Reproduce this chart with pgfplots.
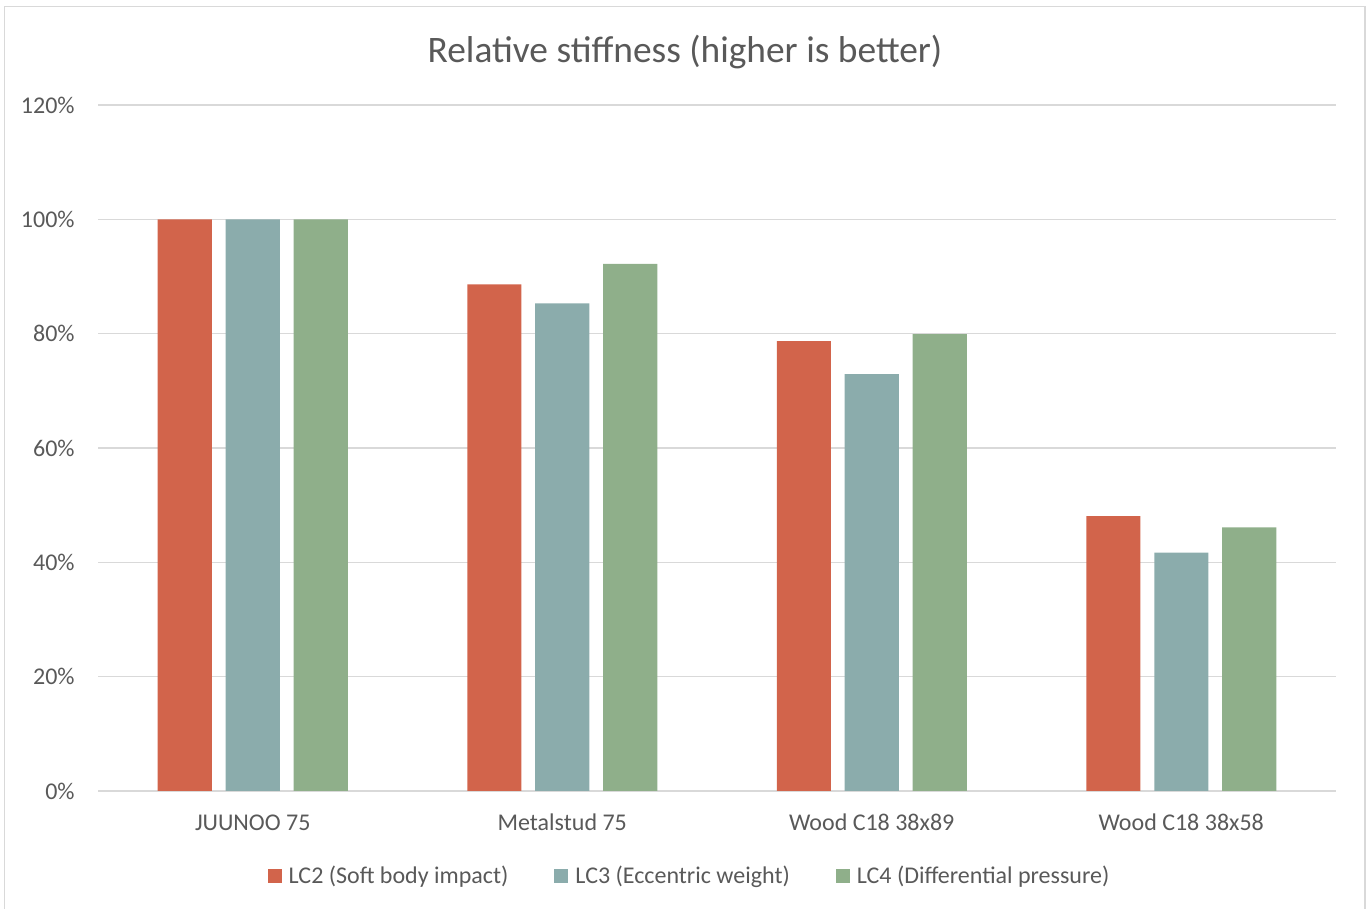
\documentclass[border=0pt]{standalone}
\usepackage{pgfplots}
\pgfplotsset{compat=1.18}
\usepackage{fontspec}
\setmainfont{Carlito}
\definecolor{cred}{HTML}{D2644B}
\definecolor{cteal}{HTML}{8BACAC}
\definecolor{cgreen}{HTML}{8FAF8A}
\definecolor{ctext}{HTML}{595959}
\definecolor{cgrid}{HTML}{D9D9D9}
\begin{document}
\begin{tikzpicture}
\useasboundingbox (0,0) rectangle (685pt,454.5pt);
\draw[cgrid, line width=0.75pt] (2.25pt,-5pt) rectangle (682.5pt,451.25pt);
\node[text=ctext, font=\fontsize{18.7}{22}\selectfont] at (342.5pt,428.5pt) {Relative stiffness (higher is better)};
\begin{axis}[
  at={(49pt,59pt)}, anchor=south west,
  scale only axis, width=619pt, height=343pt,
  xmin=-0.5, xmax=3.5, ymin=0, ymax=120,
  xtick={0,1,2,3},
  xticklabels={JUUNOO 75, Metalstud 75, Wood C18 38x89, Wood C18 38x58},
  ytick={0,20,40,60,80,100,120},
  yticklabel={\pgfmathprintnumber{\tick}\%},
  /pgf/number format/assume math mode=true,
  major tick length=0pt,
  axis line style={draw=none},
  ymajorgrids, grid style={draw=cgrid, line width=0.75pt},
  tick label style={text=ctext, font=\fontsize{12}{14}\selectfont},
  yticklabel style={anchor=east, inner sep=0pt, xshift=-11.5pt},
  xticklabel style={anchor=base, inner sep=0pt, yshift=-20pt},
  legend columns=3,
  legend style={draw=none, fill=none, at={(0.5,0)}, anchor=center, yshift=-42.5pt, xshift=-13.5pt,
    font=\fontsize{12}{14}\selectfont, text=ctext,
    /tikz/every odd column/.append style={column sep=2pt},
    /tikz/every even column/.append style={column sep=21.5pt},
    nodes={inner sep=1.5pt}},
  legend image code/.code={\fill[#1] (0pt,-3.5pt) rectangle (7pt,3.5pt);},
]
\addplot[ybar, bar width=0.1745, bar shift=-0.2197, fill=cred, draw=none]
  coordinates {(0,100) (1,88.6) (2,78.7) (3,48.1)};
\addlegendentry{LC2 (Soft body impact)}
\addplot[ybar, bar width=0.1745, bar shift=0, fill=cteal, draw=none]
  coordinates {(0,100) (1,85.3) (2,72.9) (3,41.7)};
\addlegendentry{LC3 (Eccentric weight)}
\addplot[ybar, bar width=0.1745, bar shift=0.2197, fill=cgreen, draw=none]
  coordinates {(0,100) (1,92.2) (2,79.9) (3,46.1)};
\addlegendentry{LC4 (Differential pressure)}
\end{axis}
\end{tikzpicture}
\end{document}
